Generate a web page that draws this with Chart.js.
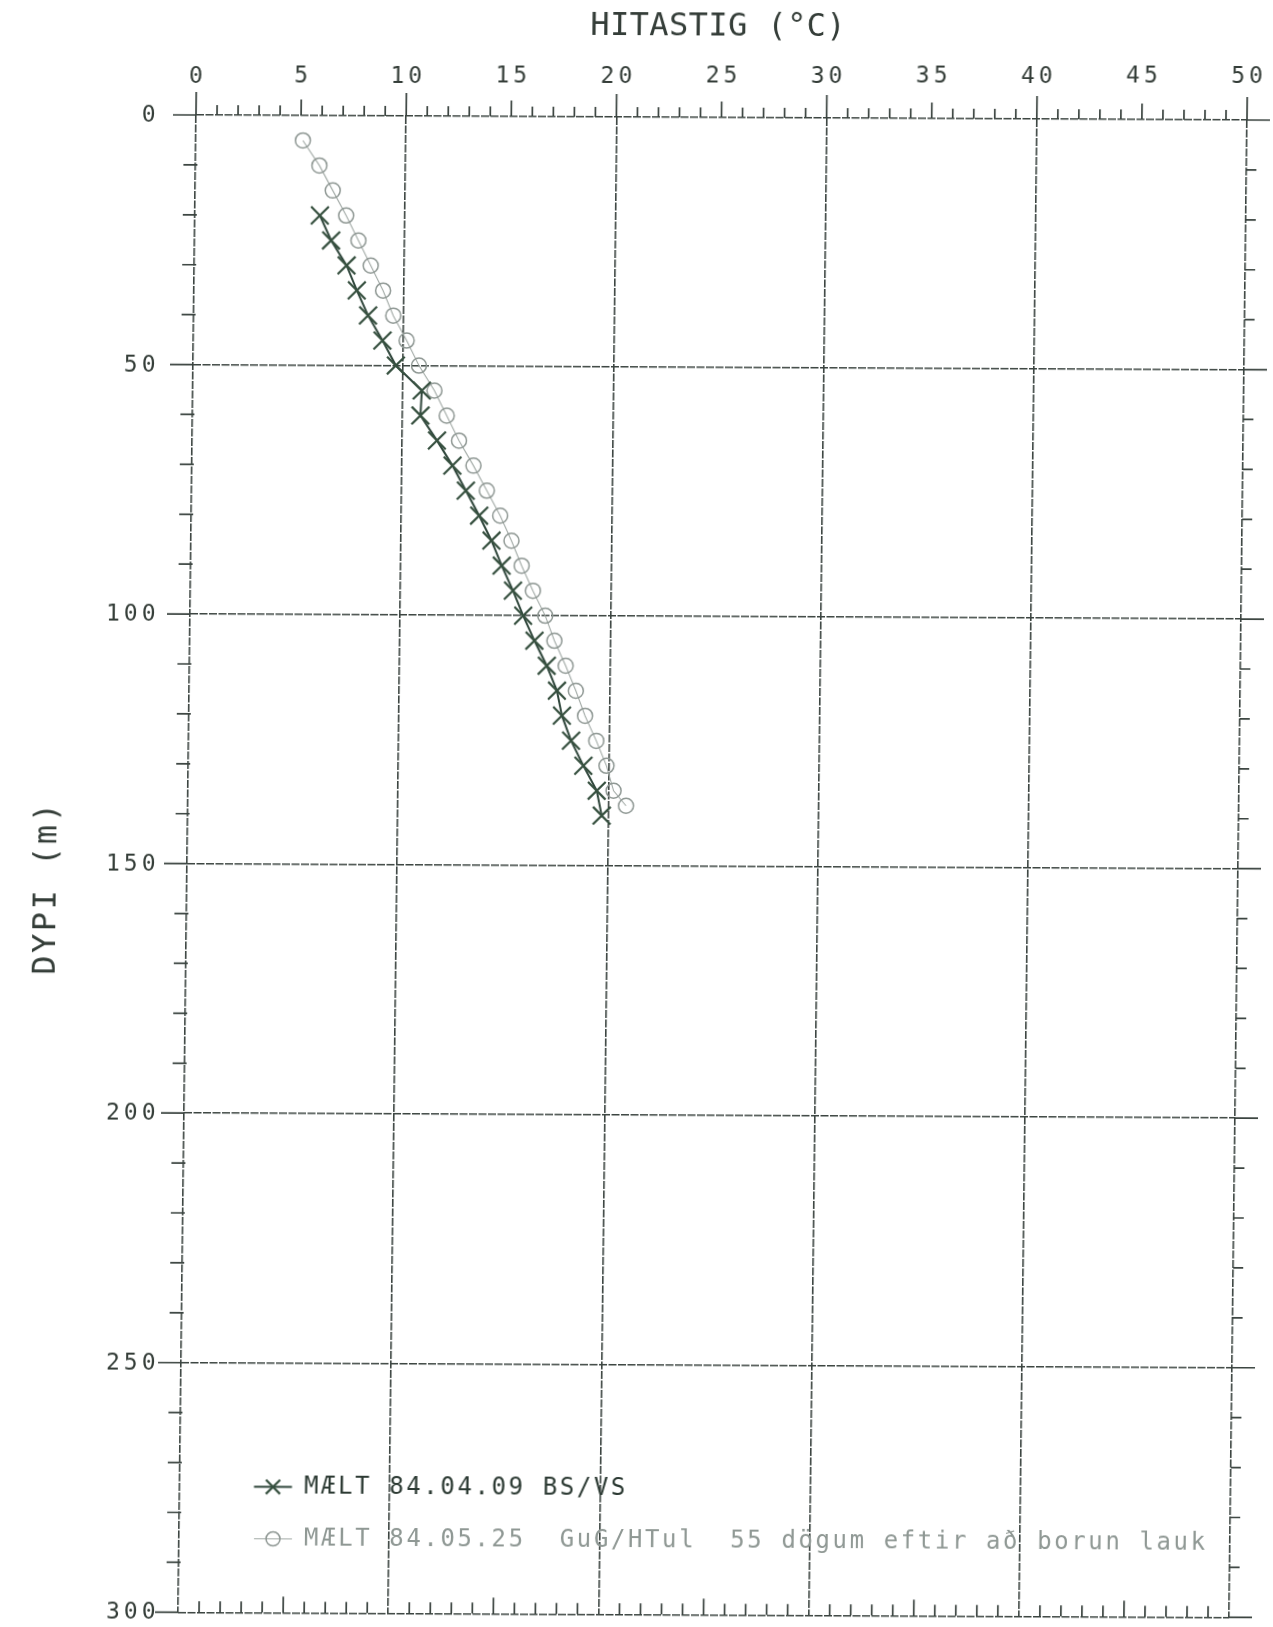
<!DOCTYPE html>
<html lang="is">
<head>
<meta charset="utf-8">
<title>Hitastig</title>
<script src="https://cdn.jsdelivr.net/npm/chart.js@4.4.1/dist/chart.umd.min.js"></script>
<style>
  html, body { margin: 0; padding: 0; background: #ffffff; }
  #wrap { position: relative; width: 1273px; height: 1627px; overflow: hidden; background: #ffffff; }
  #plot { position: absolute; left: 0; top: 0; width: 1273px; height: 1627px; }
</style>
</head>
<body>
<div id="wrap"><canvas id="plot" width="1273" height="1627"></canvas></div>
<script>
// Temperature logs: depth in metres, temperature in °C
const depthsApr = [20, 25, 30, 35, 40, 45, 50, 55, 60, 65, 70, 75, 80, 85, 90, 95, 100, 105, 110, 115, 120, 125, 130, 135, 140];
const tempsApr  = [5.95, 6.5, 7.25, 7.75, 8.3, 9.0, 9.65, 10.9, 10.85, 11.65, 12.4, 13.05, 13.7, 14.3, 14.8, 15.35, 15.85, 16.4, 17.0, 17.5, 17.75, 18.2, 18.8, 19.45, 19.7];

const depthsMay = [5, 10, 15, 20, 25, 30, 35, 40, 45, 50, 55, 60, 65, 70, 75, 80, 85, 90, 95, 100, 105, 110, 115, 120, 125, 130, 135, 138];
const tempsMay  = [5.1, 5.9, 6.55, 7.2, 7.8, 8.4, 9.0, 9.5, 10.15, 10.75, 11.5, 12.1, 12.7, 13.4, 14.05, 14.7, 15.25, 15.75, 16.3, 16.9, 17.35, 17.9, 18.4, 18.85, 19.4, 19.9, 20.25, 20.85];

const tempTickLabels  = [0, 5, 10, 15, 20, 25, 30, 35, 40, 45, 50];
const depthTickLabels = [0, 50, 100, 150, 200, 250, 300];

const xTitle = 'HITASTIG (°C)';
const yTitle = 'DYPI (m)';
const legendApr = 'MÆLT 84.04.09 BS/VS';
const legendMay = 'MÆLT 84.05.25  GuG/HTul  55 dögum eftir að borun lauk';

// pen colours
const INK = '#3b4440';
const TEXT = '#343d38';
const APR_COLOR = '#36503f';
const MAY_COLOR = '#8e9793';
const FONT = '"DejaVu Sans Mono", "Liberation Mono", monospace';

// the plotter sheet sits slightly sheared on the page
const SHEET = { ox: 196, oy: 115, b: 0.0048, c: -0.012 };
const canvas = document.getElementById('plot');
canvas.style.transformOrigin = SHEET.ox + 'px ' + SHEET.oy + 'px';
canvas.style.transform = 'matrix(1,' + SHEET.b + ',' + SHEET.c + ',1,0,0)';

// canvas position that lands on page position (X, Y)
function toSheet(X, Y) {
  let x = X, y = Y;
  for (let i = 0; i < 4; i++) {
    x = X - SHEET.c * (y - SHEET.oy);
    y = Y - SHEET.b * (x - SHEET.ox);
  }
  return { x, y };
}
function toPage(x, y) {
  return { x: x + SHEET.c * (y - SHEET.oy), y: y + SHEET.b * (x - SHEET.ox) };
}

function penText(ctx, text, X, Y, o) {
  const p = toSheet(X, Y);
  ctx.save();
  ctx.translate(p.x, p.y);
  if (o.rotate) ctx.rotate(o.rotate);
  ctx.font = o.font;
  ctx.fillStyle = o.color;
  ctx.textBaseline = 'middle';
  ctx.textAlign = 'left';
  const sp = ('letterSpacing' in ctx) ? (o.spacing || 0) : 0;
  if ('letterSpacing' in ctx) ctx.letterSpacing = sp + 'px';
  const w = ctx.measureText(text).width - sp;
  const x0 = o.align === 'center' ? -w / 2 : (o.align === 'right' ? -w : 0);
  ctx.fillText(text, x0, 0);
  ctx.restore();
}

// tick marks and frame overhangs of the plotter sheet
const sheetTicks = {
  id: 'sheetTicks',
  beforeDatasetsDraw(chart) {
    const { ctx, chartArea: a, scales: { x, y } } = chart;
    ctx.save();
    ctx.strokeStyle = INK;
    ctx.lineWidth = 1.7;
    ctx.beginPath();
    for (let t = 0; t <= 50; t++) {
      const px = x.getPixelForValue(t);
      if (t % 10 === 0) {
        ctx.moveTo(px, a.top); ctx.lineTo(px, a.top - 23);
      } else {
        const up = t % 5 === 0 ? 16 : 10;
        const inside = t % 5 === 0 ? 16 : 11;
        ctx.moveTo(px, a.top); ctx.lineTo(px, a.top - up);
        ctx.moveTo(px, a.bottom); ctx.lineTo(px, a.bottom - inside);
      }
    }
    for (let d = 0; d <= 300; d += 10) {
      const py = y.getPixelForValue(d);
      if (d % 50 === 0) {
        ctx.moveTo(a.left - 23, py); ctx.lineTo(a.left, py);
        ctx.moveTo(a.right, py); ctx.lineTo(a.right + 23, py);
      } else {
        ctx.moveTo(a.left - 12, py); ctx.lineTo(a.left + 2, py);
        ctx.moveTo(a.right, py); ctx.lineTo(a.right + 10, py);
      }
    }
    ctx.stroke();
    ctx.restore();
  },
  afterDraw(chart) {
    const { ctx, scales: { x, y } } = chart;
    const tickFont = '23px ' + FONT;
    tempTickLabels.forEach(v => {
      const p = toPage(x.getPixelForValue(v), chart.chartArea.top);
      penText(ctx, String(v), p.x, 77, { font: tickFont, color: TEXT, align: 'center', spacing: 4 });
    });
    depthTickLabels.forEach(v => {
      const p = toPage(chart.chartArea.left, y.getPixelForValue(v));
      penText(ctx, String(v), 155.5, p.y + 1, { font: tickFont, color: TEXT, align: 'right', spacing: 4 });
    });
    penText(ctx, xTitle, 718, 27, { font: '32px ' + FONT, color: TEXT, align: 'center', spacing: 0.4 });
    penText(ctx, yTitle, 47, 889, { font: '32px ' + FONT, color: TEXT, align: 'center', spacing: 2.5, rotate: -Math.PI / 2 });

    // legend: pen sample followed by caption
    const rows = [{ ds: chart.data.datasets[0], Y: 1487 }, { ds: chart.data.datasets[1], Y: 1539 }];
    rows.forEach(r => {
      const c = toSheet(273, r.Y);
      ctx.save();
      ctx.strokeStyle = r.ds.borderColor;
      ctx.lineWidth = r.ds.borderWidth;
      ctx.beginPath();
      ctx.moveTo(c.x - 19, c.y); ctx.lineTo(c.x + 19, c.y);
      ctx.stroke();
      ctx.strokeStyle = r.ds.pointBorderColor;
      ctx.fillStyle = r.ds.pointBackgroundColor;
      ctx.lineWidth = r.ds.pointBorderWidth;
      Chart.helpers.drawPoint(ctx, {
        pointStyle: r.ds.pointStyle, rotation: 0,
        radius: r.ds.pointStyle === 'circle' ? 7 : 10,
        borderWidth: r.ds.pointBorderWidth
      }, c.x, c.y);
      ctx.restore();
      penText(ctx, r.ds.label, 304, r.Y, { font: '24px ' + FONT, color: r.ds.legendText, align: 'left', spacing: 2.6 });
    });
  }
};

new Chart(canvas, {
  type: 'line',
  data: {
    datasets: [
      {
        label: legendApr,
        data: depthsApr.map((d, i) => ({ x: tempsApr[i], y: d })),
        borderColor: '#2f463b',
        borderWidth: 2,
        pointStyle: 'crossRot',
        pointRadius: 12.5,
        pointBorderWidth: 2.2,
        pointBorderColor: APR_COLOR,
        pointBackgroundColor: 'rgba(255,255,255,0)',
        legendText: '#2c3a33',
        tension: 0
      },
      {
        label: legendMay,
        data: depthsMay.map((d, i) => ({ x: tempsMay[i], y: d })),
        borderColor: '#a2aaa6',
        borderWidth: 1.1,
        pointStyle: 'circle',
        pointRadius: 7.5,
        pointBorderWidth: 1.5,
        pointBorderColor: MAY_COLOR,
        pointBackgroundColor: 'rgba(255,255,255,0)',
        legendText: '#8f9894',
        tension: 0
      }
    ]
  },
  options: {
    responsive: false,
    animation: false,
    events: [],
    layout: { padding: { top: 0, left: 0, right: 26, bottom: 13 } },
    plugins: { legend: { display: false }, tooltip: { enabled: false } },
    scales: {
      x: {
        type: 'linear', position: 'top', min: 0, max: 50,
        ticks: { stepSize: 10, display: false },
        grid: { color: INK, lineWidth: 1.6, drawTicks: false },
        border: { display: false, dash: [8, 1.5] },
        afterFit: s => { s.height = 115; }
      },
      y: {
        type: 'linear', position: 'left', reverse: true, min: 0, max: 300,
        ticks: { stepSize: 50, display: false },
        grid: { color: INK, lineWidth: 1.6, drawTicks: false },
        border: { display: false, dash: [8, 1.5] },
        afterFit: s => { s.width = 196; }
      }
    }
  },
  plugins: [sheetTicks]
});
</script>
</body>
</html>
